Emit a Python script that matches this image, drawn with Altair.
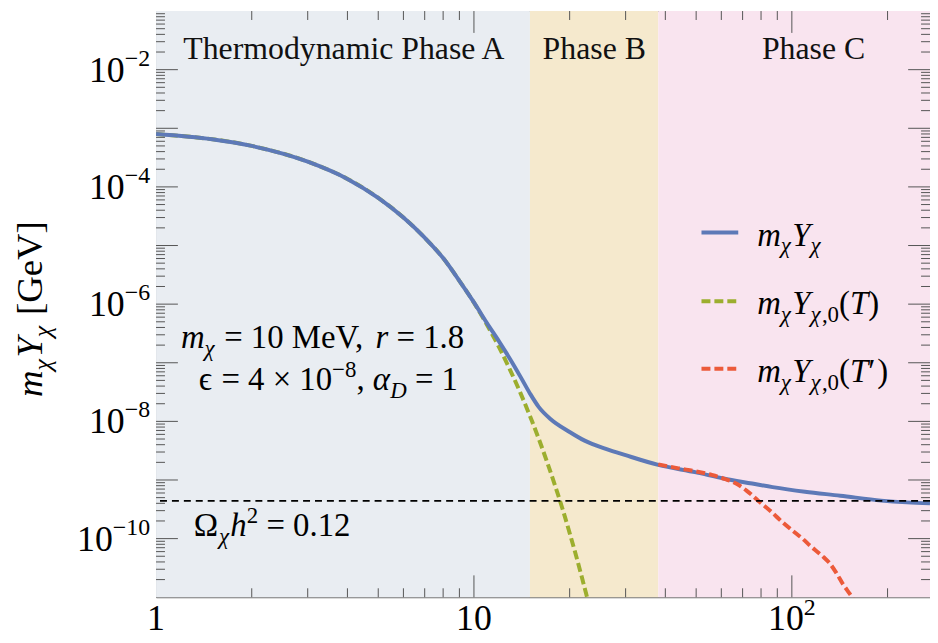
import altair as alt
import pandas as pd

SERIF = "Liberation Serif"

# ---------------- data ----------------
x_blue = [1, 1.5, 2, 3, 4, 5, 6, 7, 8, 9, 10, 11, 12, 13, 14, 15, 16, 17.4, 20, 22.3,
          26, 30, 38, 50, 61, 75, 87, 110, 142, 191, 230, 272]
y_blue = [8.0e-4, 6.5e-4, 5.0e-4, 2.7e-4, 1.37e-4, 6.5e-5, 3.0e-5, 1.36e-5, 6.1e-6, 2.5e-6,
          1.07e-6, 4.7e-7, 2.3e-7, 1.15e-7, 5.8e-8, 3.0e-8, 1.75e-8, 1.1e-8, 6.6e-9, 4.7e-9,
          3.4e-9, 2.65e-9, 1.81e-9, 1.35e-9, 1.06e-9, 8.7e-10, 7.55e-10, 6.3e-10, 5.4e-10,
          4.45e-10, 4.15e-10, 4.0e-10]

x_green = [1, 2, 3, 4, 5, 6, 7, 8, 9, 10, 11, 12, 13, 14, 15, 16, 17, 18, 19, 20, 21, 22, 23]
y_green = [8.0e-4, 5.0e-4, 2.7e-4, 1.37e-4, 6.5e-5, 3.0e-5, 1.36e-5, 6.1e-6, 2.5e-6, 1.06e-6,
           4.4e-7, 1.83e-7, 7.5e-8, 3.06e-8, 1.24e-8, 5.0e-9, 2.0e-9, 8.0e-10, 3.2e-10,
           1.25e-10, 4.9e-11, 1.9e-11, 7.5e-12]

x_red = [38, 44, 50, 56, 61, 67, 72, 78.5, 86, 93, 100, 108, 115, 121, 126, 131, 138, 145,
         152, 158, 165]
y_red = [1.85e-9, 1.58e-9, 1.4e-9, 1.22e-9, 1.06e-9, 8.6e-10, 6.6e-10, 4.4e-10, 2.9e-10,
         1.95e-10, 1.4e-10, 1.0e-10, 7.3e-11, 5.8e-11, 4.8e-11, 3.9e-11, 2.6e-11, 1.65e-11,
         1.15e-11, 8.5e-12, 6e-12]

omega_value = [4.4e-10]

phase_names = ["Thermodynamic Phase A", "Phase B", "Phase C"]
phase_start = [1, 15, 38]
phase_end = [15, 38, 272]
phase_label_x = [3.9, 23.9, 117]
phase_colors = ["#e9edf2", "#f5e9cd", "#f9e4ef"]

x_domain = [1, 272]
y_domain = [1e-11, 0.1]
x_major = [10, 100]
x_minor = [2, 3, 4, 5, 6, 7, 8, 9, 20, 30, 40, 50, 60, 70, 80, 90, 200]
y_major_exp = [-10, -9, -8, -7, -6, -5, -4, -3, -2]
y_minor_mult = [2, 3, 4, 5, 6, 7, 8, 9]
y_minor_exp = [-11, -10, -9, -8, -7, -6, -5, -4, -3, -2]
y_label_exp = [-2, -4, -6, -8, -10]
x_labels = [(1, "1"), (10, "10")]

BLUE = "#5d79b7"
GREEN = "#9cae2e"
RED = "#ec5a3a"

W, H = 779, 590
DUMMY = pd.DataFrame({"d": [0]})

xs = alt.Scale(type="log", domain=x_domain, nice=False)
ys = alt.Scale(type="log", domain=y_domain, nice=False)

# --------------- text width helper (Times metrics) -------------
W_RM = {" ": .25, ".": .25, ",": .25, "=": .564, "×": .564, "−": .564, "(": .333, ")": .333,
        "[": .333, "]": .333, "G": .722, "e": .444, "V": .722, "M": .889, "Ω": .768,
        "′": .28, "ϵ": .44}
W_IT = {" ": .25, "m": .722, "Y": .556, "T": .556, "r": .389, "h": .5, "D": .722, "χ": .5,
        "α": .53, ",": .25}


def twidth(s, size, italic):
    tab = W_IT if italic else W_RM
    return sum(tab.get(c, .5) for c in s) * size


def piece_props(kind, F):
    size = F if kind in ("rm", "it") else round(0.7 * F)
    italic = kind in ("it", "sub")
    if kind in ("rm", "it"):
        dy = 0
    elif kind.startswith("sub"):
        dy = round(0.24 * F)
    else:
        dy = -round(0.4 * F)
    return size, italic, dy


def rich_width(pieces, F):
    tot = 0
    for txt, kind in pieces:
        size, italic, _ = piece_props(kind, F)
        tot += twidth(txt, size, italic)
    return tot


def rich(pieces, ax, ay, F, angle=None):
    out = []
    cx = 0.0
    for txt, kind in pieces:
        size, italic, dy = piece_props(kind, F)
        lead = len(txt) - len(txt.lstrip(" "))
        trail = len(txt) - len(txt.rstrip(" "))
        core = txt.strip(" ")
        cx += lead * 0.25 * size
        props = dict(text=core, font=SERIF, fontSize=size, align="left",
                     baseline="alphabetic", dx=round(cx, 1), dy=dy, color="black")
        if italic:
            props["fontStyle"] = "italic"
        if angle is not None:
            props["angle"] = angle
        out.append(alt.Chart(DUMMY).mark_text(**props).encode(
            x=alt.value(ax), y=alt.value(ay)))
        cx += twidth(core, size, italic) + trail * 0.25 * size
    return out


layers = []

# --------------- phase backgrounds ---------------
df_phase = pd.DataFrame({"name": phase_names, "start": phase_start, "end": phase_end,
                         "lx": phase_label_x})
layers.append(alt.Chart(df_phase).mark_rect().encode(
    x=alt.X("start:Q", scale=xs, axis=None), x2="end:Q",
    y=alt.value(0), y2=alt.value(H),
    color=alt.Color("name:N", scale=alt.Scale(domain=phase_names, range=phase_colors),
                    legend=None)))

# --------------- ticks (inward, on all four sides) ---------------
TICK_C = "#555555"
df_xmaj = pd.DataFrame({"v": x_major})
df_xmin = pd.DataFrame({"v": x_minor})
df_ymaj = pd.DataFrame({"v": [10.0 ** e for e in y_major_exp]})
df_ymin = pd.DataFrame({"v": [m * 10.0 ** e for e in y_minor_exp for m in y_minor_mult
                              if m * 10.0 ** e < y_domain[1]]})
for df, ln in [(df_xmaj, 22), (df_xmin, 9)]:
    layers.append(alt.Chart(df).mark_rule(color=TICK_C, strokeWidth=1).encode(
        x=alt.X("v:Q", scale=xs, axis=None), y=alt.value(H), y2=alt.value(H - ln)))
    layers.append(alt.Chart(df).mark_rule(color=TICK_C, strokeWidth=1).encode(
        x=alt.X("v:Q", scale=xs, axis=None), y=alt.value(0), y2=alt.value(ln)))
for df, ln in [(df_ymaj, 22), (df_ymin, 9)]:
    layers.append(alt.Chart(df).mark_rule(color=TICK_C, strokeWidth=1).encode(
        y=alt.Y("v:Q", scale=ys, axis=None), x=alt.value(0), x2=alt.value(ln)))
    layers.append(alt.Chart(df).mark_rule(color=TICK_C, strokeWidth=1).encode(
        y=alt.Y("v:Q", scale=ys, axis=None), x=alt.value(W), x2=alt.value(W - ln)))


# --------------- curves ---------------
def curve(xv, yv, color, dash=None):
    df = pd.DataFrame({"x": xv, "y": yv})
    props = dict(color=color, strokeWidth=4, clip=True, interpolate="monotone")
    if dash:
        props["strokeDash"] = dash
    return alt.Chart(df).mark_line(**props).encode(
        x=alt.X("x:Q", scale=xs, axis=None), y=alt.Y("y:Q", scale=ys, axis=None))


layers.append(curve(x_green, y_green, GREEN, [9, 4]))
layers.append(curve(x_blue, y_blue, BLUE))
layers.append(curve(x_red, y_red, RED, [9, 4]))

# Omega h^2 = 0.12 line
layers.append(alt.Chart(pd.DataFrame({"v": omega_value})).mark_rule(
    color="black", strokeWidth=1.8, strokeDash=[7, 5]).encode(
    y=alt.Y("v:Q", scale=ys, axis=None)))

# --------------- phase labels ---------------
layers.append(alt.Chart(df_phase).mark_text(
    font=SERIF, fontSize=32, align="center", baseline="alphabetic", color="#111").encode(
    x=alt.X("lx:Q", scale=xs, axis=None), y=alt.value(48), text="name:N"))

# --------------- annotations ---------------
F_ANN = 33
layers += rich([("m", "it"), ("χ", "sub"), (" = 10 MeV, ", "rm"), ("r", "it"),
                (" = 1.8", "rm")], 25, 339, F_ANN)
layers += rich([("ϵ", "rm"), (" = 4 × 10", "rm"), ("−8", "sup"), (", ", "rm"),
                ("α", "it"), ("D", "sub"), (" = 1", "rm")], 43, 381, F_ANN)
layers += rich([("Ω", "rm"), ("χ", "sub"), ("h", "it"), ("2", "sup"), (" = 0.12", "rm")],
               38, 528, F_ANN)

# --------------- legend ---------------
leg_y = [223, 292, 360]
leg_styles = [(BLUE, None), (GREEN, [9, 4]), (RED, [9, 4])]
leg_texts = [
    [("m", "it"), ("χ", "sub"), ("Y", "it"), ("χ", "sub")],
    [("m", "it"), ("χ", "sub"), ("Y", "it"), ("χ", "sub"), (",0", "subrm"), ("(", "rm"),
     ("T", "it"), (")", "rm")],
    [("m", "it"), ("χ", "sub"), ("Y", "it"), ("χ", "sub"), (",0", "subrm"), ("(", "rm"),
     ("T", "it"), ("′", "rm"), (")", "rm")],
]
for yy, (col, dash), pcs in zip(leg_y, leg_styles, leg_texts):
    props = dict(color=col, strokeWidth=4)
    if dash:
        props["strokeDash"] = dash
    layers.append(alt.Chart(DUMMY).mark_rule(**props).encode(
        x=alt.value(549), x2=alt.value(586), y=alt.value(yy)))
    layers += rich(pcs, 605, yy + 13, 33)

# --------------- axis labels ---------------
F_LAB, F_EXP = 36, 24
LAB_Y = 623
for xv, txt in x_labels:
    layers.append(alt.Chart(pd.DataFrame({"v": [xv]})).mark_text(
        text=txt, font=SERIF, fontSize=F_LAB, align="center", baseline="alphabetic",
        color="black").encode(x=alt.X("v:Q", scale=xs, axis=None), y=alt.value(LAB_Y)))
tot = twidth("10", F_LAB, False) + twidth("2", F_EXP, False)
layers.append(alt.Chart(pd.DataFrame({"v": [100]})).mark_text(
    text="10", font=SERIF, fontSize=F_LAB, align="left", baseline="alphabetic",
    dx=-tot / 2, color="black").encode(x=alt.X("v:Q", scale=xs, axis=None),
                                       y=alt.value(LAB_Y)))
layers.append(alt.Chart(pd.DataFrame({"v": [100]})).mark_text(
    text="2", font=SERIF, fontSize=F_EXP, align="left", baseline="alphabetic",
    dx=-tot / 2 + twidth("10", F_LAB, False), dy=-15, color="black").encode(
    x=alt.X("v:Q", scale=xs, axis=None), y=alt.value(LAB_Y)))

for e in y_label_exp:
    exp_txt = "−" + str(-e)
    wexp = twidth(exp_txt, F_EXP, False)
    dfv = pd.DataFrame({"v": [10.0 ** e]})
    layers.append(alt.Chart(dfv).mark_text(
        text=exp_txt, font=SERIF, fontSize=F_EXP, align="right", baseline="alphabetic",
        dy=-4, color="black").encode(y=alt.Y("v:Q", scale=ys, axis=None), x=alt.value(-6)))
    layers.append(alt.Chart(dfv).mark_text(
        text="10", font=SERIF, fontSize=F_LAB, align="right", baseline="alphabetic",
        dy=12, color="black").encode(y=alt.Y("v:Q", scale=ys, axis=None),
                                     x=alt.value(-6 - wexp)))

# --------------- y-axis title (rotated) ---------------
title_pcs = [("m", "it"), ("χ", "sub"), ("Y", "it"), ("χ", "sub"), (" [GeV]", "rm")]
F_T = 37
tw = rich_width(title_pcs, F_T)
layers += rich(title_pcs, -115, 300 + tw / 2, F_T, angle=270)

chart = alt.layer(*layers).properties(
    width=W, height=H,
    padding={"left": 149, "top": 1, "right": 0, "bottom": 44},
    autosize=alt.AutoSizeParams(type="none"),
).configure_view(stroke="#555555", strokeWidth=1)

chart.save("out.html", embed_options={"renderer": "svg", "actions": False})
